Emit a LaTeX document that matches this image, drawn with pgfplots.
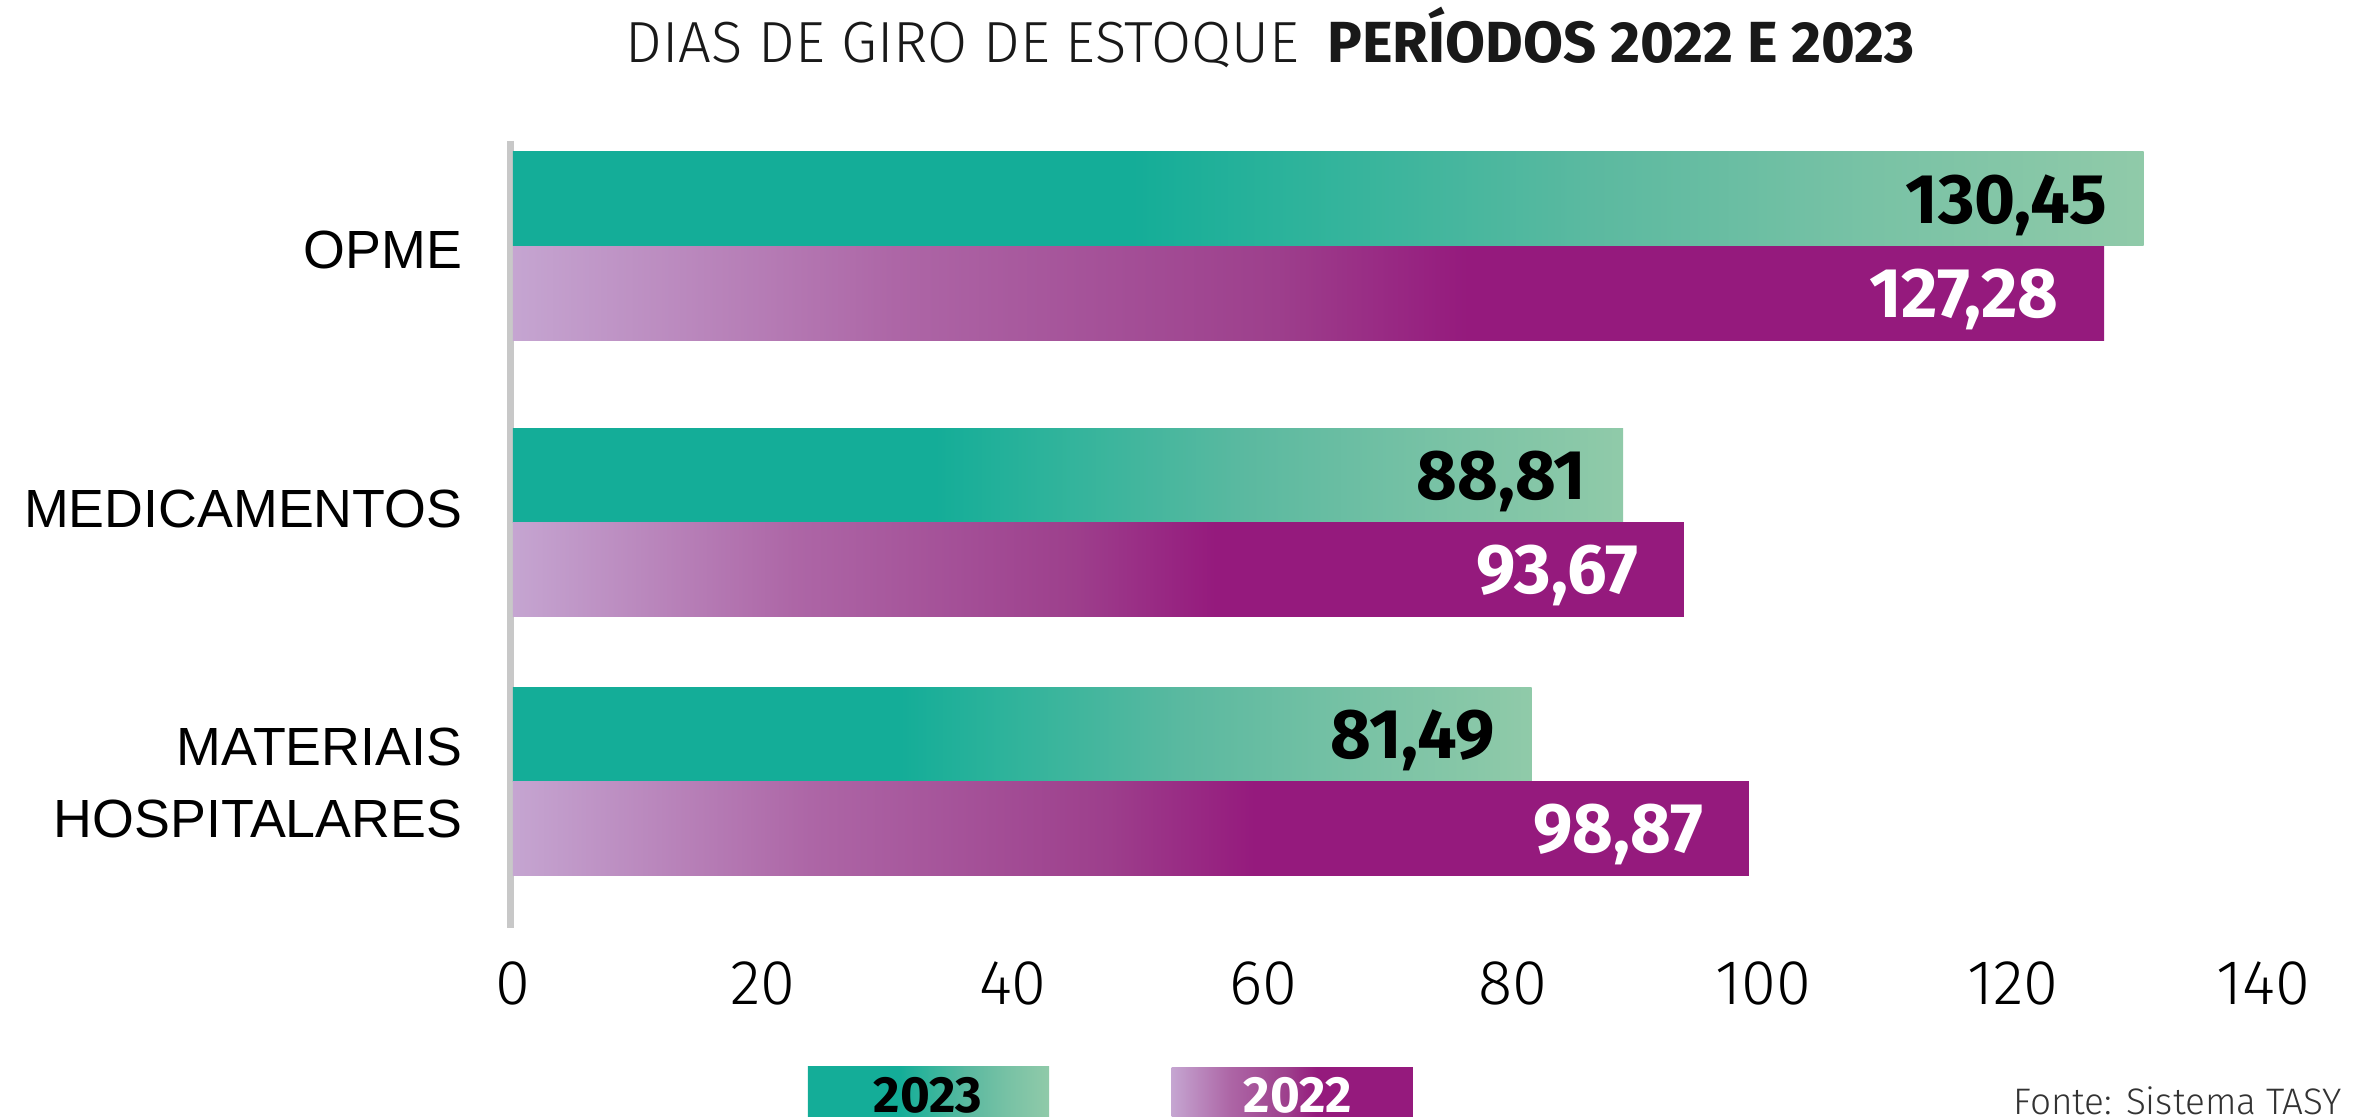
\documentclass[border=0pt]{standalone}
\usepackage{fontspec}
\setmainfont{Fira Sans}
\newfontfamily\lightfont{Fira Sans Light}
\newfontfamily\catfont{Liberation Sans}
\usepackage{pgfplots}
\pgfplotsset{compat=1.18}

\definecolor{tA}{HTML}{14AD98}
\definecolor{tB}{HTML}{2DB39B}
\definecolor{tC}{HTML}{5BB9A0}
\definecolor{tD}{HTML}{78C2A5}
\definecolor{tE}{HTML}{90CAA9}
\definecolor{pA}{HTML}{C5A5D1}
\definecolor{pB}{HTML}{AD66A6}
\definecolor{pC}{HTML}{9D3F8C}
\definecolor{pD}{HTML}{951A7D}
\definecolor{axgray}{HTML}{C8C8C8}

\pgfdeclarehorizontalshading{tealshade}{100bp}{color(0bp)=(tA); color(44bp)=(tA); color(49bp)=(tB); color(58bp)=(tC); color(66.5bp)=(tD); color(75bp)=(tE); color(100bp)=(tE)}
\pgfdeclarehorizontalshading{purpshade}{100bp}{color(0bp)=(pA); color(25bp)=(pA); color(37bp)=(pB); color(49bp)=(pC); color(55bp)=(pD); color(100bp)=(pD)}

\pgfplotsset{
  new23/.style={draw=none, shading=tealshade,
    every node near coord/.append style={anchor=east, xshift=-3.6mm, inner sep=0pt, text depth=0pt,
      text=black, font=\bfseries\fontsize{20}{22}\selectfont}},
  new22/.style={draw=none, shading=purpshade,
    every node near coord/.append style={anchor=east, xshift=-4.5mm, inner sep=0pt, text depth=0pt,
      text=white, font=\bfseries\fontsize{20}{22}\selectfont}},
}

\begin{document}
\begin{tikzpicture}
\begin{axis}[
  scale only axis, width=175mm, height=78.7mm,
  xmin=0, xmax=140, ymin=-928, ymax=-141,
  enlargelimits=false,
  axis line style={draw=none}, major tick length=0pt,
  xtick={0,20,...,140},
  ytick={-783,-509,-250},
  yticklabels={{MATERIAIS\\HOSPITALARES}, MEDICAMENTOS, OPME},
  yticklabel style={font=\catfont\fontsize{15.3}{20.7}\selectfont, align=right, anchor=east, inner sep=0pt, xshift=-5mm},
  xticklabel style={font=\lightfont\fontsize{18}{20}\selectfont, anchor=north, inner sep=0pt, yshift=-3.3mm},
  /pgf/number format/assume math mode=true,
  clip=false,
  xbar, bar width=94, bar shift=0pt,
  point meta=explicit symbolic,
  nodes near coords,
]
\draw[line width=0.7mm, draw=axgray] (axis cs:-0.16,-141) -- (axis cs:-0.16,-928);

% 2023
\addplot[new23] coordinates {(130.45,-199) [130,45]};
\addplot[new23] coordinates {(88.81,-475.5) [88,81]};
\addplot[new23] coordinates {(81.49,-734.5) [81,49]};
% 2022
\addplot[new22] coordinates {(127.28,-293.5) [127,28]};
\addplot[new22] coordinates {(93.67,-569.5) [93,67]};
\addplot[new22] coordinates {(98.87,-828.5) [98,87]};

% title
\node[anchor=base, inner sep=0pt, text=black!90] at (axis cs:60.56,-63)
  {{\lightfont\fontsize{16.5}{18}\selectfont DIAS DE GIRO DE ESTOQUE}\hspace{2.8mm}{\bfseries\fontsize{16.5}{18}\selectfont PERÍODOS 2022 E 2023}};

% legend boxes
\shade[shading=tealshade] (axis cs:23.6,-1066) rectangle (axis cs:42.9,-1140);
\shade[shading=purpshade] (axis cs:52.7,-1067) rectangle (axis cs:72.0,-1140);
\node[anchor=north, inner sep=0pt, text depth=0pt, font=\bfseries\fontsize{14.5}{16}\selectfont, text=black] at (axis cs:33.2,-1077) {2023};
\node[anchor=north, inner sep=0pt, text depth=0pt, font=\bfseries\fontsize{14.5}{16}\selectfont, text=white] at (axis cs:62.8,-1077) {2022};

% source
\node[anchor=base east, inner sep=0pt, font=\lightfont\fontsize{10.5}{12}\selectfont, text=black!80] at (axis cs:146.4,-1114) {Fonte: Sistema TASY};

\coordinate (BL) at (axis cs:-41.04,-1117);
\coordinate (TR) at (axis cs:147.76,0);
\end{axis}
\pgfresetboundingbox
\path[use as bounding box] (BL) rectangle (TR);
\end{tikzpicture}
\end{document}
